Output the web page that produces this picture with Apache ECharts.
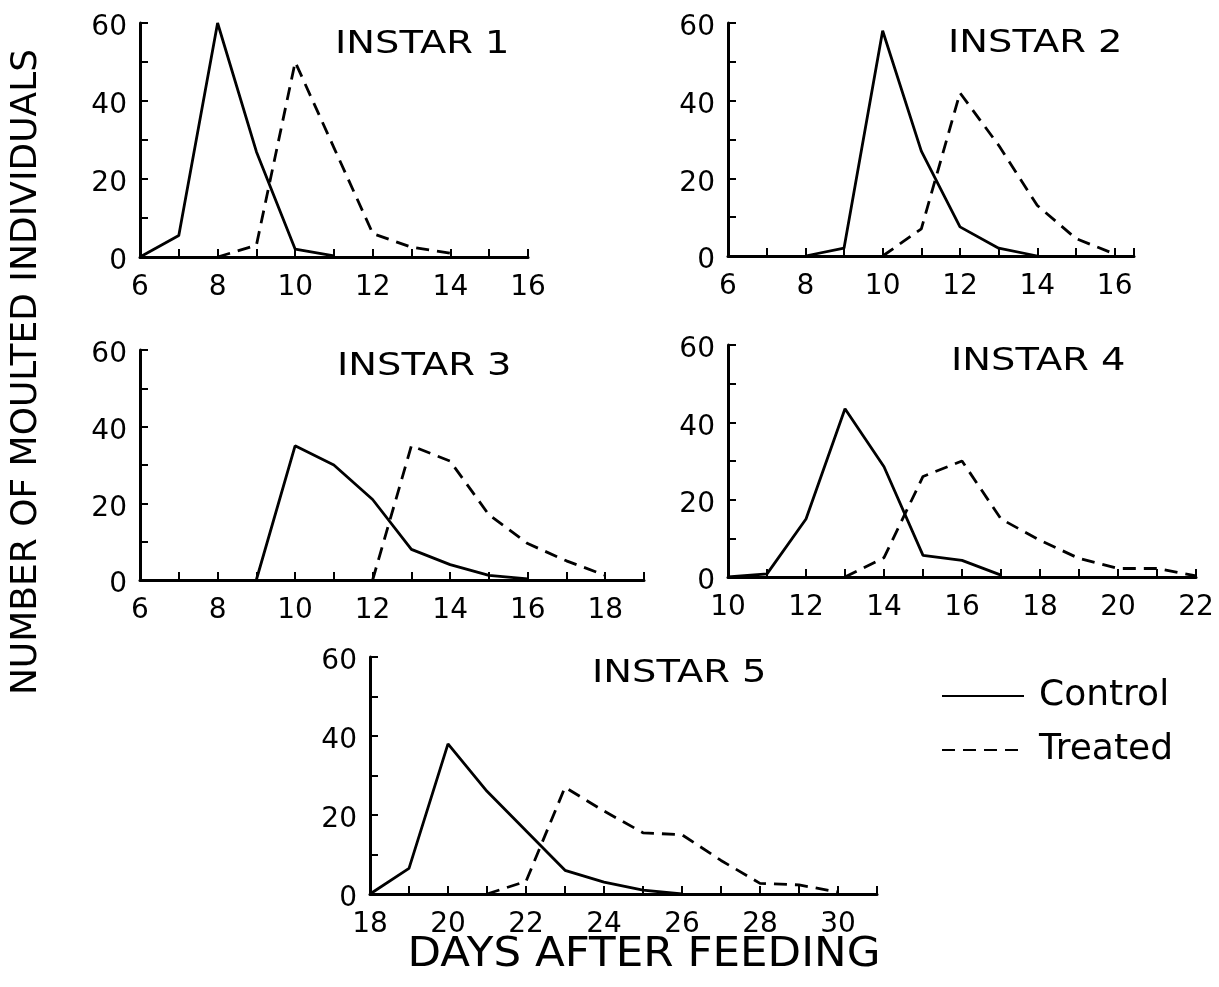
<!DOCTYPE html>
<html><head><meta charset="utf-8">
<script src="https://cdn.jsdelivr.net/npm/echarts@6/dist/echarts.min.js"></script>
<style>html,body{margin:0;padding:0;background:#fff}#c{width:1219px;height:987px}</style>
</head><body><div id="c"></div>
<script>
// ---- data (days after feeding, number of moulted individuals) ----
const panelTitles = ['INSTAR 1', 'INSTAR 2', 'INSTAR 3', 'INSTAR 4', 'INSTAR 5'];
const seriesNames = ['Control', 'Treated'];

const inst1ControlDays = [6, 7, 8, 9, 10, 11];
const inst1Control     = [0, 5.5, 60, 27, 2, 0.3];
const inst1TreatedDays = [8, 9, 10, 11, 12, 13, 14];
const inst1Treated     = [0, 3, 50, 28, 6, 2.5, 1];

const inst2ControlDays = [8, 9, 10, 11, 12, 13, 14];
const inst2Control     = [0, 2, 58, 27, 7.5, 2, 0];
const inst2TreatedDays = [10, 11, 12, 13, 14, 15, 16];
const inst2Treated     = [0, 7, 42, 28.5, 13, 4.5, 0.5];

const inst3ControlDays = [9, 10, 11, 12, 13, 14, 15, 16];
const inst3Control     = [0, 35, 30, 21, 8, 4, 1.2, 0.3];
const inst3TreatedDays = [12, 13, 14, 15, 16, 17, 18];
const inst3Treated     = [0, 35, 31, 17, 9.5, 5, 1.2];

const inst4ControlDays = [10, 11, 12, 13, 14, 15, 16, 17];
const inst4Control     = [0, 0.8, 15, 43.5, 28.5, 5.6, 4.3, 0.5];
const inst4TreatedDays = [13, 14, 15, 16, 17, 18, 19, 20, 21, 22];
const inst4Treated     = [0, 5, 26, 30, 15, 9.5, 4.8, 2.2, 2.2, 0.3];

const inst5ControlDays = [18, 19, 20, 21, 22, 23, 24, 25, 26];
const inst5Control     = [0, 6.5, 38, 26, 16, 6, 3, 1, 0];
const inst5TreatedDays = [21, 22, 23, 24, 25, 26, 27, 28, 29, 30];
const inst5Treated     = [0, 3.2, 27, 21, 15.5, 15, 8.5, 2.7, 2.3, 0.5];

const xTickLabelsEvery = 2;   // labels on even days
const yTickLabels = [0, 20, 40, 60];

// ---- layout ----
const FONT = 'DejaVu Sans';
const panels = [
  {left:140, top:23,  width:388, height:234, min:6,  max:16,   tx:335, ty:45,  c:[inst1ControlDays, inst1Control], t:[inst1TreatedDays, inst1Treated]},
  {left:728, top:23,  width:406, height:233, min:6,  max:16.5, tx:948, ty:44,  c:[inst2ControlDays, inst2Control], t:[inst2TreatedDays, inst2Treated]},
  {left:140, top:350, width:504, height:230, min:6,  max:19,   tx:337, ty:367, c:[inst3ControlDays, inst3Control], t:[inst3TreatedDays, inst3Treated]},
  {left:728, top:345, width:468, height:232, min:10, max:22,   tx:951, ty:362, c:[inst4ControlDays, inst4Control], t:[inst4TreatedDays, inst4Treated]},
  {left:370, top:657, width:507, height:237, min:18, max:31,   tx:592, ty:674, c:[inst5ControlDays, inst5Control], t:[inst5TreatedDays, inst5Treated]}
];

const zip = (xs, ys) => xs.map((x, i) => [x, ys[i]]);
const axisLine = {show:true, onZero:false, lineStyle:{color:'#000', width:3}};
const axisTick = {show:true, inside:true, length:8, lineStyle:{color:'#000', width:2}};

const grid = [], xAxis = [], yAxis = [], series = [], graphic = [];
panels.forEach((p, i) => {
  grid.push({left:p.left, top:p.top, width:p.width, height:p.height, containLabel:false});
  xAxis.push({
    type:'value', gridIndex:i, min:p.min, max:p.max, interval:1,
    axisLine, axisTick, splitLine:{show:false},
    axisLabel:{color:'#000', fontSize:28, fontFamily:FONT, margin:17, showMinLabel:true, showMaxLabel:true,
      formatter: v => (Number.isInteger(v) && v % xTickLabelsEvery === 0) ? String(v) : ''}
  });
  yAxis.push({
    type:'value', gridIndex:i, min:0, max:60, interval:10,
    axisLine, axisTick, splitLine:{show:false},
    axisLabel:{color:'#000', fontSize:28, fontFamily:FONT, margin:13, verticalAlign:'top', lineHeight:10,
      formatter: v => yTickLabels.includes(v) ? String(v) : ''}
  });
  series.push({
    type:'line', name:seriesNames[0], xAxisIndex:i, yAxisIndex:i, data:zip(p.c[0], p.c[1]),
    symbol:'none', lineStyle:{color:'#000', width:2.8, type:'solid'}, itemStyle:{color:'#000'}, animation:false
  });
  series.push({
    type:'line', name:seriesNames[1], xAxisIndex:i, yAxisIndex:i, data:zip(p.t[0], p.t[1]),
    symbol:'none', lineStyle:{color:'#000', width:2.8, type:[13, 8]}, itemStyle:{color:'#000'}, animation:false
  });
  graphic.push({type:'text', x:p.tx, y:p.ty, scaleX:1.2,
    style:{text:panelTitles[i], fontSize:32, fontFamily:FONT, fill:'#000', align:'left', verticalAlign:'middle'}});
});

graphic.push({type:'text', x:27, y:372, rotation:Math.PI/2,
  style:{text:'NUMBER OF MOULTED INDIVIDUALS', fontSize:36, fontFamily:FONT, fill:'#000', align:'center', verticalAlign:'middle'}});
graphic.push({type:'text', x:644, y:956, scaleX:1.09,
  style:{text:'DAYS AFTER FEEDING', fontSize:40, fontFamily:FONT, fill:'#000', align:'center', verticalAlign:'middle'}});

const chart = echarts.init(document.getElementById('c'), null, {renderer:'canvas'});
chart.setOption({
  backgroundColor:'#fff',
  animation:false,
  grid, xAxis, yAxis, series, graphic,
  legend:{
    data:seriesNames, orient:'vertical', left:936, top:673, itemWidth:82, itemHeight:14, itemGap:18,
    itemStyle:{color:'rgba(0,0,0,0)', borderColor:'rgba(0,0,0,0)', borderWidth:0, opacity:0},
    textStyle:{fontSize:36, fontFamily:FONT, color:'#000', padding:[0,0,0,10]},
    selectedMode:false
  }
});
</script>
</body></html>
